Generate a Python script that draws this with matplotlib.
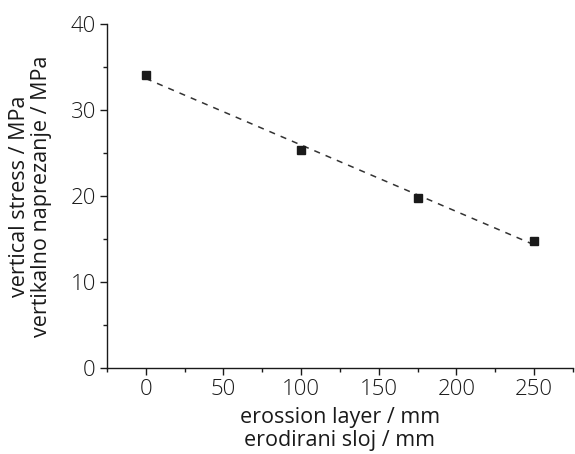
import numpy as np
import matplotlib
matplotlib.use("Agg")
import matplotlib.pyplot as plt
from matplotlib.ticker import MultipleLocator

plt.rcParams['font.family'] = ['Open Sans', 'DejaVu Sans']
plt.rcParams['font.weight'] = 'light'

# data
erosion = [0, 100, 175, 250]
stress = [34.1, 25.4, 19.8, 14.8]

fig = plt.figure(figsize=(5.75, 4.54), dpi=100)
ax = fig.add_axes([0.186, 0.189, 0.8105, 0.758])

# linear fit drawn as dashed line
k, b = np.polyfit(erosion, stress, 1)
xf = np.array([erosion[0], erosion[-1]])
ax.plot(xf, k * xf + b, linestyle=(0, (4, 4)), color='#333333', lw=1.1)
ax.plot(erosion, stress, 's', color='#1a1a1a', ms=5.5)

ax.set_xlim(-25, 275)
ax.set_ylim(0, 40)
ax.xaxis.set_major_locator(MultipleLocator(50))
ax.xaxis.set_minor_locator(MultipleLocator(25))
ax.yaxis.set_major_locator(MultipleLocator(10))
ax.yaxis.set_minor_locator(MultipleLocator(5))

for s in ['top', 'right']:
    ax.spines[s].set_visible(False)
for s in ['left', 'bottom']:
    ax.spines[s].set_color('#1a1a1a')
    ax.spines[s].set_linewidth(1.0)

ax.tick_params(which='major', direction='out', length=5, width=1, colors='#1a1a1a',
               labelsize=16, labelcolor='#1a1a1a', pad=3)
ax.tick_params(which='minor', direction='out', length=3, width=1, colors='#1a1a1a')

ax.set_xlabel("erossion layer / mm\nerodirani sloj / mm", fontsize=15.5,
              color='#1a1a1a', linespacing=1.1, labelpad=5)
ax.set_ylabel("vertical stress / MPa\nvertikalno naprezanje / MPa", fontsize=15.5,
              color='#1a1a1a', linespacing=1.1, labelpad=13)

fig.savefig("out.png", dpi=100)
